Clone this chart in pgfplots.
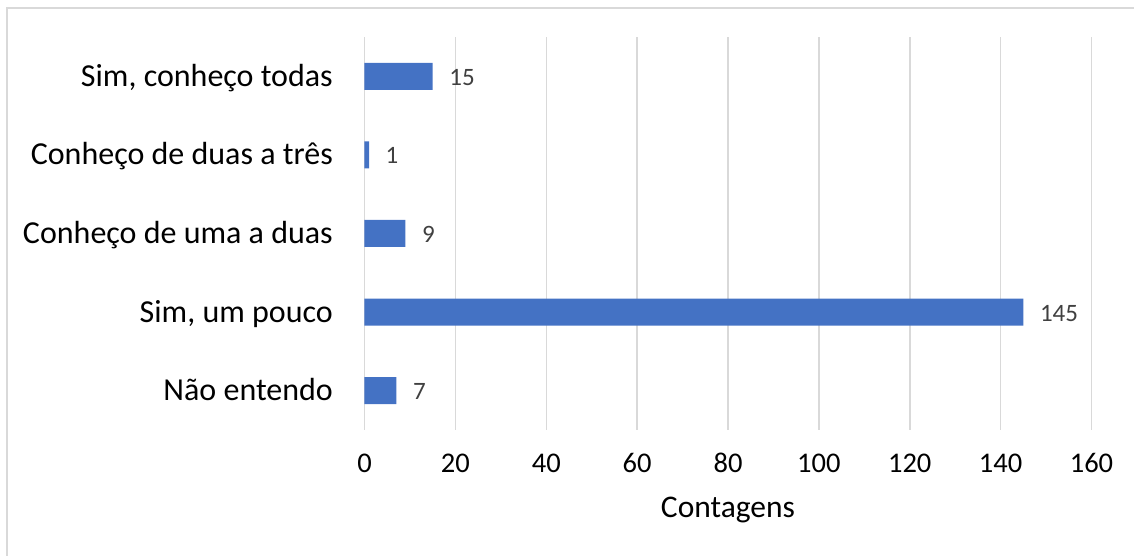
\documentclass[border=0pt]{standalone}
\usepackage{fontspec}
\setmainfont{Carlito}
\usepackage{pgfplots}
\pgfplotsset{compat=1.18}
\definecolor{barblue}{HTML}{4472C4}
\definecolor{gridgrey}{HTML}{D9D9D9}
\definecolor{labelgrey}{HTML}{404040}
\begin{document}
\begin{tikzpicture}
% page size = reference size, 1px = 1bp
\path[use as bounding box] (0,0) rectangle (1134bp,556bp);
\draw[gridgrey, line width=1.2bp] (7bp,0) -- (7bp,548bp) -- (1134bp,548bp);
\begin{axis}[
    at={(364.5bp,126bp)}, anchor=south west,
    scale only axis,
    width=727bp, height=393bp,
    xbar, bar width=27bp,
    xmin=0, xmax=160,
    ymin=-0.5, ymax=4.5,
    xtick={0,20,...,160},
    ytick={0,1,2,3,4},
    yticklabels={Não entendo, {Sim, um pouco}, Conheço de uma a duas, Conheço de duas a três, {Sim, conheço todas}},
    axis line style={draw=none},
    major tick length=0pt,
    xmajorgrids=true,
    grid style={gridgrey, line width=1.5bp},
    /pgf/number format/assume math mode=true,
    xticklabel style={font=\fontsize{28.5bp}{32bp}\selectfont, anchor=base, inner sep=0pt, yshift=-42.5bp},
    yticklabel style={font=\fontsize{32bp}{36bp}\selectfont, anchor=base east, inner sep=0pt, xshift=-31.5bp, yshift=-10bp},
    xlabel={Contagens},
    xlabel style={font=\fontsize{31.5bp}{35bp}\selectfont, at={(axis description cs:0.5,0)}, anchor=base, inner sep=0pt, yshift=-87bp},
    nodes near coords,
    nodes near coords style={font=\fontsize{25bp}{28bp}\selectfont, text=labelgrey, anchor=base west, inner sep=0pt, xshift=16.5bp, yshift=-9bp},
]
\addplot[fill=barblue, draw=none] coordinates {
    (7,0)
    (145,1)
    (9,2)
    (1,3)
    (15,4)
};
\end{axis}
\end{tikzpicture}
\end{document}
